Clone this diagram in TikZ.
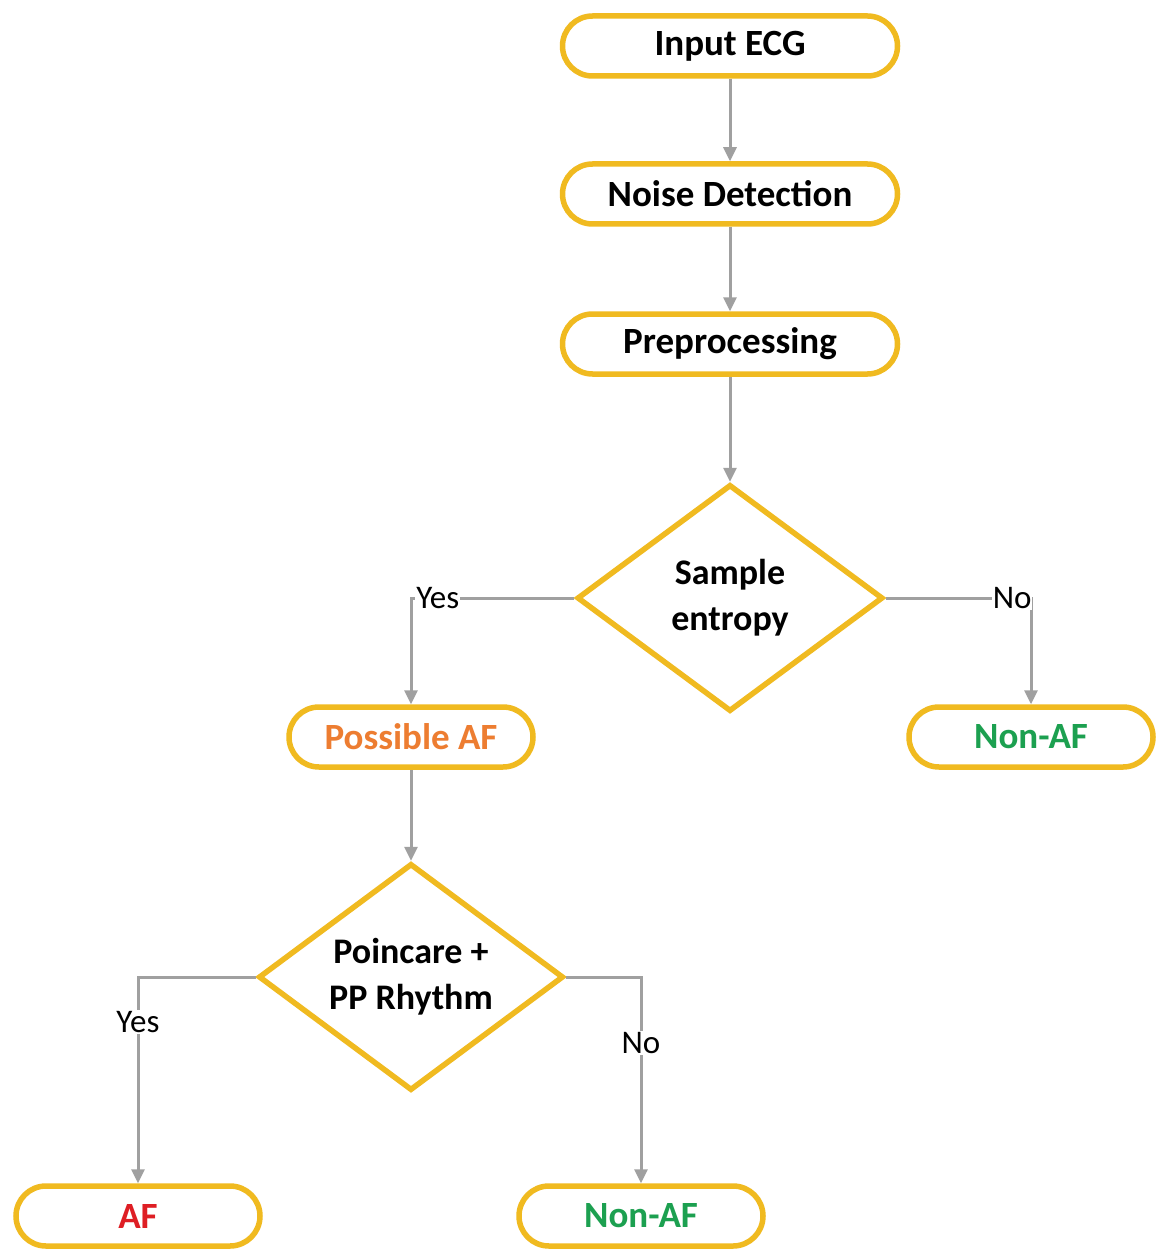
\documentclass[tikz,border=0pt]{standalone}
\usepackage{fontspec}
\setmainfont{Carlito}
\usetikzlibrary{shapes.geometric,arrows.meta}
\definecolor{boxgold}{RGB}{240,186,32}
\definecolor{linegray}{RGB}{160,160,160}
\definecolor{afOrange}{RGB}{237,125,49}
\definecolor{afGreen}{RGB}{28,160,80}
\definecolor{afRed}{RGB}{222,30,36}
\tikzset{
  pill/.style={draw=boxgold, line width=5.5pt, fill=white, rectangle, rounded corners=30pt,
    minimum width=335pt, minimum height=60pt, inner sep=0pt,
    font=\fontsize{37}{40}\selectfont\bfseries},
  smallpill/.style={pill, minimum width=244pt},
  decision/.style={draw=boxgold, line width=5.5pt, fill=white, diamond, shape aspect=1.34,
    inner sep=0pt, align=center, font=\fontsize{36}{46}\selectfont\bfseries},
  conn/.style={draw=linegray, line width=3pt, -{Triangle[length=14pt,width=13pt]}},
  lbl/.style={fill=white, inner sep=1pt, font=\fontsize{33}{36}\selectfont, text=black},
}
\begin{document}
\begin{tikzpicture}[x=1pt,y=-1pt]
\useasboundingbox[fill=white] (0,0) rectangle (1160,1249);
\node[pill] (in) at (730,46) {Input ECG};
\node[pill] (nd) at (730,194) {Noise Detection};
\node[pill] (pp) at (730,344) {Preprocessing};
\node[decision, minimum width=306pt, minimum height=227pt] (sd) at (730,598) {Sample\\entropy};
\node[smallpill, text=afOrange] (paf) at (411,737) {Possible AF};
\node[smallpill, text=afGreen] (naf1) at (1031,737) {Non-AF};
\node[decision, minimum width=305pt, minimum height=227pt] (pc) at (411,977) {Poincare +\\PP Rhythm};
\node[smallpill, text=afRed] (af) at (138,1216) {AF};
\node[smallpill, text=afGreen] (naf2) at (641,1216) {Non-AF};

\draw[conn] (in) -- (nd);
\draw[conn] (nd) -- (pp);
\draw[conn] (pp) -- (sd.north);
\draw[conn] (sd.west) -| node[lbl, pos=0.418] (ly1) {Yes} (paf.north);
\draw[conn] (sd.east) -| node[lbl, pos=0.435] (ln1) {No} (naf1.north);
\draw[conn] (paf) -- (pc.north);
\draw[conn] (pc.west) -| node[lbl, pos=0.609] (ly2) {Yes} (af.north);
\draw[conn] (pc.east) -| node[lbl, pos=0.66] (ln2) {No} (naf2.north);
\end{tikzpicture}
\end{document}
